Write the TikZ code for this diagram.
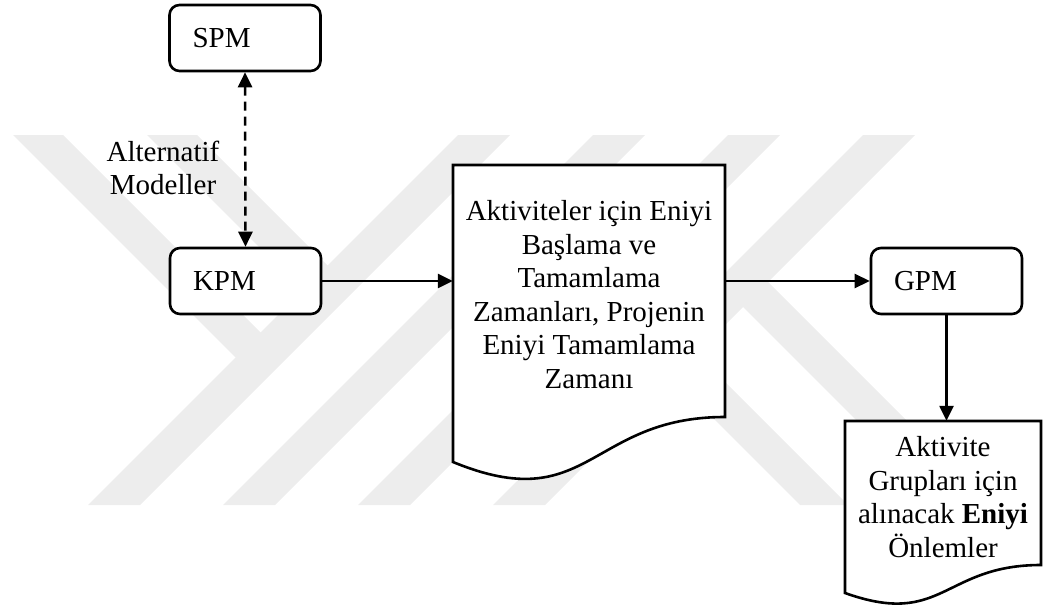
\documentclass[tikz,border=0pt]{standalone}
\usepackage{fontspec}
\setmainfont{Liberation Serif}
\usetikzlibrary{arrows.meta}
\begin{document}
\begin{tikzpicture}[x=1pt,y=-1pt,
  wm/.style={fill=black!7,draw=none},
  bigfont/.style={font=\fontsize{29}{33.5}\selectfont},
  pmbox/.style={draw,line width=2.6pt,rounded corners=10pt,fill=white,
    minimum width=151pt,minimum height=66pt,text width=105pt,inner xsep=23pt,
    inner ysep=0pt,align=left,bigfont},
  docarea/.style={draw=none,inner sep=0pt},
  docline/.style={draw,line width=2.6pt,fill=white,line join=miter},
  doctext/.style={align=center,bigfont,inner sep=0pt},
  conn/.style={line width=2.5pt,-{Triangle[length=15pt,width=14pt]}},
  dconn/.style={line width=2.5pt,dash pattern=on 9pt off 6pt,
    {Triangle[length=15pt,width=14pt]}-{Triangle[length=15pt,width=14pt]}}
]
\useasboundingbox (0,0) rectangle (1043,607);
% watermark
\fill[wm] (458,135) -- (510,135) -- (140,505) -- (88,505) -- cycle;
\fill[wm] (593,135) -- (645,135) -- (275,505) -- (223,505) -- cycle;
\fill[wm] (728,135) -- (780,135) -- (410,505) -- (358,505) -- cycle;
\fill[wm] (863,135) -- (915,135) -- (545,505) -- (493,505) -- cycle;
\fill[wm] (13,135) -- (63,135) -- (273.5,345.5) -- (248.5,370.5) -- cycle;
\fill[wm] (147,135) -- (197,135) -- (340.5,278.5) -- (315.5,303.5) -- cycle;
\fill[wm] (800,505) -- (848,505) -- (683,340) -- (659,364) -- cycle;
\fill[wm] (941,505) -- (991,505) -- (754.5,268.5) -- (729.5,293.5) -- cycle;
% boxes
\node[pmbox] (spm) at (245,38) {SPM};
\node[pmbox] (kpm) at (245.5,281) {KPM};
\node[pmbox] (gpm) at (946.5,281) {GPM};
% document shapes
\path[docline] (453,165) -- (725,165) -- (725,417) .. controls (589,417) and (589,518) .. (453,462) -- cycle;
\node[docarea,minimum width=272pt,minimum height=252pt] (doc1) at (589,291) {};
\node[doctext] (doc1t) at (589,294.5) {Aktiviteler için Eniyi\\Başlama ve\\Tamamlama\\Zamanları, Projenin\\Eniyi Tamamlama\\Zamanı};
\path[docline] (845,421) -- (1041,421) -- (1041,565) .. controls (943,565) and (943,628) .. (845,593) -- cycle;
\node[docarea,minimum width=196pt,minimum height=144pt] (doc2) at (943,493) {};
\node[doctext] (doc2t) at (943,497) {Aktivite\\Grupları için\\alınacak \textbf{Eniyi}\\Önlemler};
% label
\node[doctext] (alt) at (163,168) {Alternatif\\Modeller};
% connectors
\draw[dconn] (spm.south) -- (kpm.north);
\draw[conn] (kpm.east) -- (kpm.east -| doc1.west);
\draw[conn] (doc1.east |- gpm.west) -- (gpm.west);
\draw[conn] (gpm.south) -- (gpm.south |- doc2.north);
\end{tikzpicture}
\end{document}
